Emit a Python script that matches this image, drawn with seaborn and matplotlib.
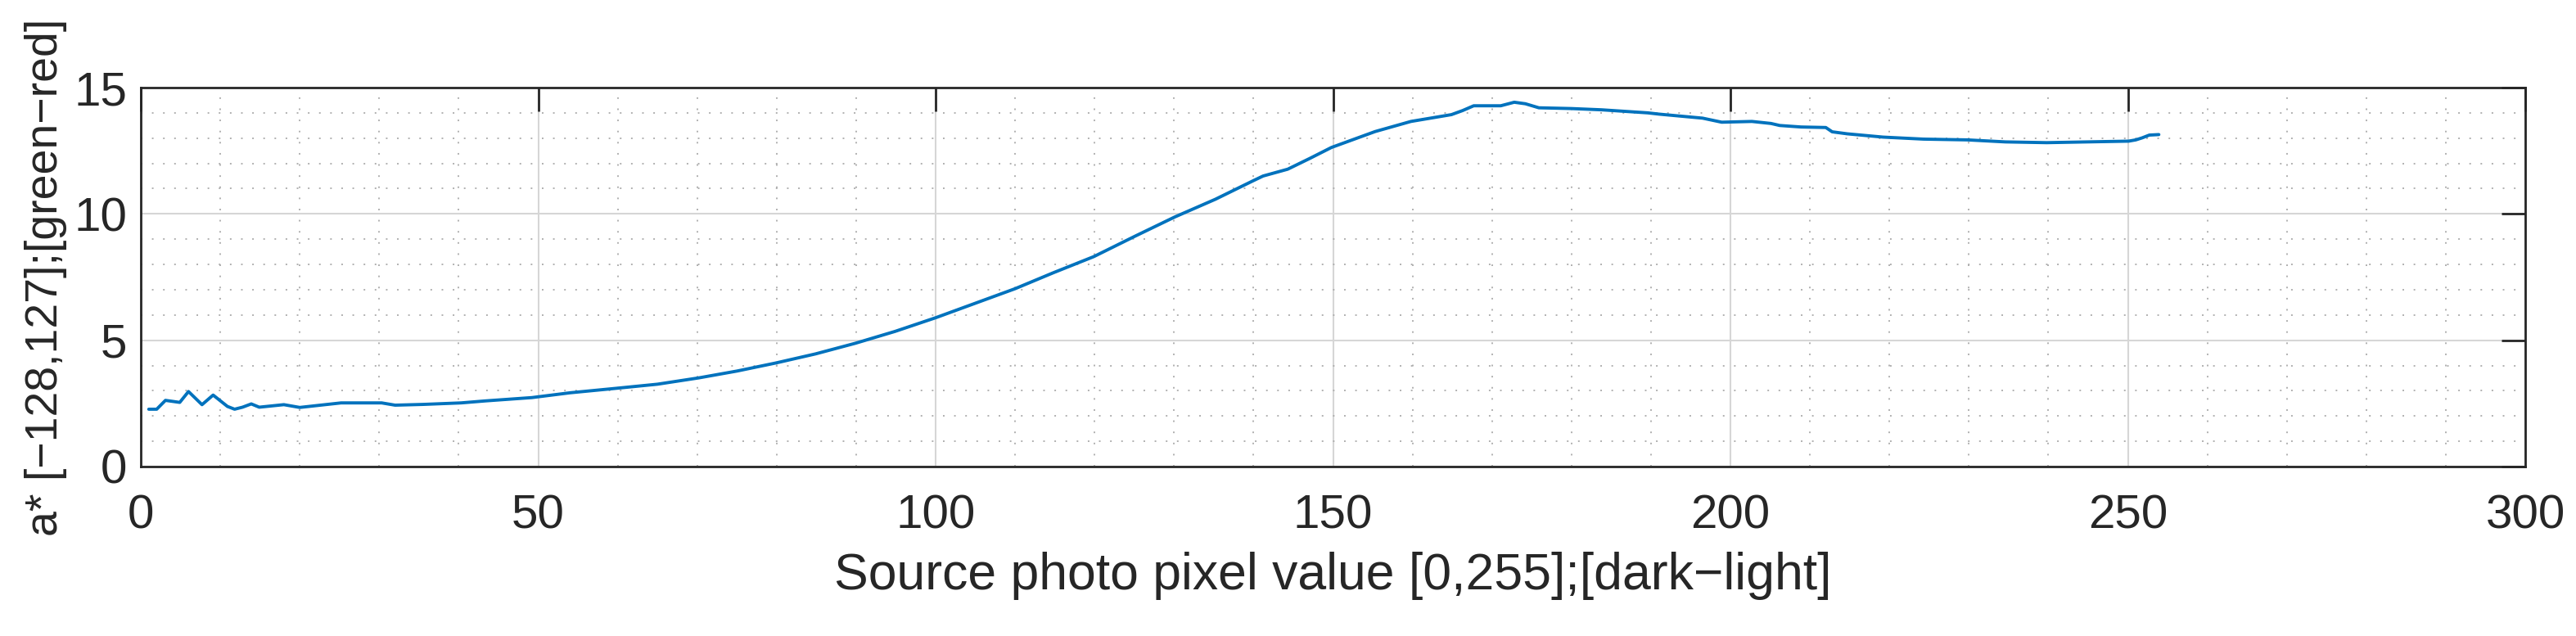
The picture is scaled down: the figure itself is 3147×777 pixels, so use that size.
import seaborn as sns
import matplotlib.pyplot as plt
import numpy as np
import pandas as pd
from matplotlib.ticker import MultipleLocator

# Values
pixel_value = [1, 2, 3.1, 4.9, 6.0, 7.7, 9.1, 10.9, 11.8, 12.8, 13.9, 14.9, 18.0, 20.0,
               25.2, 30.3, 32.0, 35.5, 40.3, 43.4, 49.2, 54.0, 59.9, 65.0, 70.2, 75.0,
               79.9, 84.9, 89.9, 94.9, 100.0, 110.0, 114.8, 119.9, 125.1, 130.1, 135.2,
               140.0, 141.2, 144.3, 147.1, 149.8, 155.3, 159.8, 164.9, 166.3, 167.7,
               171.1, 172.8, 174.2, 175.9, 180.0, 183.8, 189.6, 191.0, 196.5, 198.9,
               202.7, 205.1, 206.2, 208.9, 212.0, 212.8, 214.7, 219.2, 224.3, 229.8,
               234.6, 239.8, 244.9, 250.1, 251.0, 251.8, 252.7, 253.9]
a_star = [2.27, 2.27, 2.62, 2.54, 2.97, 2.45, 2.83, 2.38, 2.27, 2.35, 2.48, 2.35, 2.45, 2.34,
          2.52, 2.52, 2.43, 2.46, 2.52, 2.60, 2.73, 2.92, 3.10, 3.26, 3.51, 3.78,
          4.10, 4.46, 4.88, 5.35, 5.89, 7.04, 7.67, 8.31, 9.12, 9.88, 10.58,
          11.32, 11.50, 11.77, 12.20, 12.63, 13.26, 13.66, 13.93, 14.09, 14.28,
          14.28, 14.42, 14.36, 14.20, 14.17, 14.12, 14.00, 13.95, 13.79, 13.63,
          13.66, 13.58, 13.50, 13.44, 13.42, 13.25, 13.17, 13.04, 12.96, 12.93,
          12.85, 12.82, 12.85, 12.88, 12.93, 13.01, 13.12, 13.14]

df = pd.DataFrame({'pixel': pixel_value, 'a': a_star})

sns.set_style('white')
plt.rcParams['font.family'] = ['Liberation Sans', 'DejaVu Sans']

text_color = '#262626'

fig = plt.figure(figsize=(31.47, 7.77), dpi=100)
ax = fig.add_axes([0.05466, 0.26641, 0.92564, 0.59588])

sns.lineplot(data=df, x='pixel', y='a', ax=ax, color='#0072BD', linewidth=2.8, zorder=3)

ax.set_xlim(0, 300)
ax.set_ylim(0, 15)
ax.xaxis.set_major_locator(MultipleLocator(50))
ax.xaxis.set_minor_locator(MultipleLocator(10))
ax.yaxis.set_major_locator(MultipleLocator(5))
ax.yaxis.set_minor_locator(MultipleLocator(1))

# MATLAB-like grid: solid major, dotted minor
ax.set_axisbelow(True)
ax.grid(which='major', color='#d6d6d6', linewidth=1.5, linestyle='-')
ax.grid(which='minor', color='#b0b0b0', linewidth=1.4, linestyle=(0, (1, 6)))

ax.tick_params(which='major', direction='in', length=21, width=2,
               top=True, right=True, colors=text_color, labelsize=42)
ax.tick_params(axis='x', which='major', pad=24)
ax.tick_params(axis='y', which='major', pad=12)
ax.tick_params(which='minor', length=0)

for s in ax.spines.values():
    s.set_color(text_color)
    s.set_linewidth(2)
    s.set_visible(True)

ax.set_xlabel('Source photo pixel value [0,255];[dark\u2212light]', fontsize=45,
              color=text_color, labelpad=12)
ax.set_ylabel('a* [\u2212128,127];[green\u2212red]', fontsize=40,
              color=text_color, labelpad=6)

plt.savefig('out.png', dpi=100)
